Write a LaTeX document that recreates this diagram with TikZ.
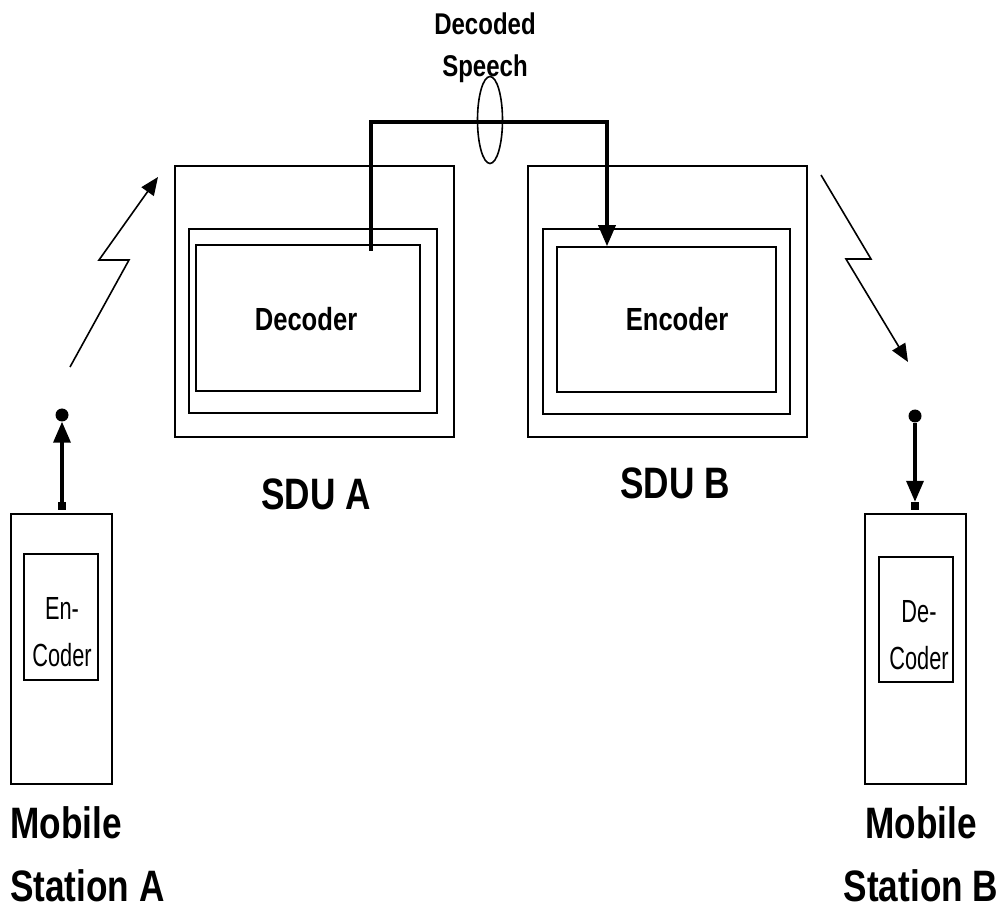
\documentclass[tikz,border=0pt]{standalone}
\usepackage{fontspec}
\newfontfamily\diagfont[FakeStretch=0.8]{Liberation Sans}
\newfontfamily\slimfont[FakeStretch=0.68]{Liberation Sans}
\usetikzlibrary{arrows.meta,positioning,shapes.geometric}

\begin{document}
\begin{tikzpicture}[x=1pt, y=-1pt, font=\diagfont,
  box/.style={draw, line width=1.6pt, inner sep=0pt},
  jack/.style={fill, inner sep=0pt, minimum size=8pt},
  tip/.style={circle, fill, inner sep=0pt, minimum size=13pt},
  bolt/.style={line width=1.6pt, -{Triangle[length=18pt,width=15pt]}},
  feed/.style={line width=3.5pt, -{Triangle[length=21pt,width=17pt]}},
  biglbl/.style={font={\diagfont\fontsize{44}{63}\selectfont\bfseries}},
  midlbl/.style={font={\diagfont\fontsize{32}{36}\selectfont\bfseries}},
  phonelbl/.style={align=center, font={\slimfont\fontsize{32}{47}\selectfont}}]
\useasboundingbox (0,0) rectangle (997,909);

% SDU A
\node(sduA)[box, minimum width=279pt, minimum height=271pt] at (314.5,301.5) {};
\node(sduAmid)[box, minimum width=248pt, minimum height=184pt] at (313,321) {};
\node(decIn)[box, minimum width=224pt, minimum height=146pt] at (308,318) {};
\node(decTxt)[midlbl] at (306,319) {Decoder};
\node(sduAlbl)[biglbl] at (316,494) {SDU A};

% SDU B
\node(sduB)[box, minimum width=279pt, minimum height=271pt] at (667.5,301.5) {};
\node(sduBmid)[box, minimum width=247pt, minimum height=185pt] at (666.5,321.5) {};
\node(encIn)[box, minimum width=219pt, minimum height=145pt] at (666.5,319.5) {};
\node(encTxt)[midlbl] at (677,319) {Encoder};
\node(sduBlbl)[biglbl] at (675,483) {SDU B};

% decoded speech path
\coordinate(tapA) at (371,251);
\coordinate(busL) at (371,122);
\coordinate(busR) at (607,122);
\draw[feed] (tapA) -- (busL) -- (busR) -- (busR |- encIn.north);
\node(bundle)[ellipse, draw, line width=1.6pt, inner sep=0pt, minimum width=25pt, minimum height=87pt] at (490,120) {};
\node(speechLbl)[align=center, font={\diagfont\fontsize{30}{42}\selectfont\bfseries}] at (485,48) {Decoded\\Speech};

% mobile station A
\node(msA)[box, minimum width=101pt, minimum height=270pt] at (61.5,649) {};
\node(msAin)[box, minimum width=74pt, minimum height=126pt] at (61,617) {};
\node(msAtxt)[phonelbl] at (62,632) {En-\\Coder};
\node(dotA)[tip] at (62,415) {};
\node(jackA)[jack] at (62,506) {};
\draw[feed] (jackA) -- (dotA);
\node(msAlbl)[biglbl, align=left, anchor=west, inner sep=0pt] at (10,854) {Mobile\\Station A};

% mobile station B
\node(msB)[box, minimum width=101pt, minimum height=270pt] at (915.5,649) {};
\node(msBin)[box, minimum width=74pt, minimum height=125pt] at (916,619.5) {};
\node(msBtxt)[phonelbl] at (919,635) {De-\\Coder};
\node(dotB)[tip] at (915,416) {};
\node(jackB)[jack] at (915,506) {};
\draw[feed] (dotB) -- (jackB);
\node(msBlbl)[biglbl, align=center, inner sep=0pt] at (921,854) {Mobile\\Station B};

% radio links
\coordinate(upA0) at (70,367);
\coordinate(upA1) at (129,260);
\coordinate(upA2) at (99,260);
\coordinate(upA3) at (158,177);
\draw[bolt] (upA0) -- (upA1) -- (upA2) -- (upA3);
\coordinate(dnB0) at (821,175);
\coordinate(dnB1) at (871,259);
\coordinate(dnB2) at (846,259);
\coordinate(dnB3) at (908,362);
\draw[bolt] (dnB0) -- (dnB1) -- (dnB2) -- (dnB3);

\end{tikzpicture}
\end{document}
